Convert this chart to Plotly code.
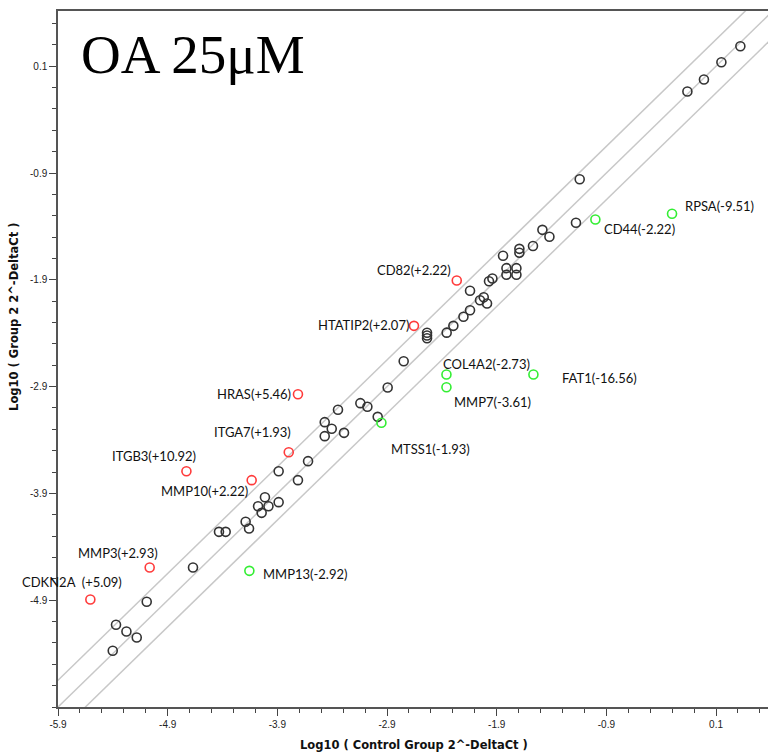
import plotly.graph_objects as go

# ---------------- data ----------------
# unchanged genes (black circles)
base_x = [-0.161, -0.010, 0.149, 0.322, -1.143, -1.177, -1.483, -1.419, -1.569, -1.693,
          -1.693, -1.842, -1.811, -1.720, -1.811, -1.720, -1.970, -1.939, -2.143, -2.052,
          -2.018, -1.988, -2.143, -2.203, -2.295, -2.356, -2.535, -2.535, -2.535, -2.748,
          -2.894, -3.143, -3.079, -3.347, -2.985, -3.468, -3.404, -3.468, -3.292, -3.620,
          -3.888, -3.712, -4.013, -4.076, -3.981, -3.888, -4.043, -4.189, -4.158, -4.432,
          -4.371, -4.669, -5.091, -5.371, -5.276, -5.182, -5.401]
base_y = [-0.137, -0.025, 0.137, 0.287, -0.958, -1.366, -1.432, -1.497, -1.584, -1.610,
          -1.647, -1.675, -1.791, -1.791, -1.853, -1.853, -1.913, -1.888, -2.003, -2.091,
          -2.063, -2.122, -2.185, -2.246, -2.331, -2.395, -2.396, -2.422, -2.447, -2.662,
          -2.908, -3.055, -3.089, -3.117, -3.183, -3.233, -3.295, -3.364, -3.333, -3.598,
          -3.692, -3.776, -3.936, -4.020, -4.020, -3.982, -4.082, -4.166, -4.229, -4.260,
          -4.260, -4.594, -4.915, -5.130, -5.193, -5.249, -5.374]

# up-regulated genes (red)
up_labels = ["CD82(+2.22)", "HTATIP2(+2.07)", "HRAS(+5.46)", "ITGA7(+1.93)",
             "ITGB3(+10.92)", "MMP10(+2.22)", "MMP3(+2.93)", "CDKN2A  (+5.09)"]
up_x = [-2.264, -2.654, -3.712, -3.796, -4.729, -4.134, -5.064, -5.605]
up_y = [-1.907, -2.331, -2.971, -3.514, -3.692, -3.776, -4.594, -4.893]

# down-regulated genes (green)
down_labels = ["RPSA(-9.51)", "CD44(-2.22)", "FAT1(-16.56)", "COL4A2(-2.73)",
               "MMP7(-3.61)", "MTSS1(-1.93)", "MMP13(-2.92)"]
down_x = [-0.301, -1.000, -1.565, -2.358, -2.358, -2.951, -4.155]
down_y = [-1.282, -1.335, -2.787, -2.787, -2.906, -3.239, -4.625]

# boundary lines (log10 offsets) and axis ticks
line_offsets = [0.25, 0.0, -0.25]
line_span = [-6.5, 1.0]
x_tick_vals = [-5.9, -4.9, -3.9, -2.9, -1.9, -0.9, 0.1]
x_tick_text = ["-5.9", "-4.9", "-3.9", "-2.9", "-1.9", "-0.9", "0.1"]
y_tick_vals = [-4.9, -3.9, -2.9, -1.9, -0.9, 0.1]
y_tick_text = ["-4.9", "-3.9", "-2.9", "-1.9", "-0.9", "0.1"]

# ---------------- styling ----------------
up_pos = [("right", -4, 11), ("right", -3, 1), ("right", -5, 0), ("right", 4, 20),
          ("right", 12, 15), ("right", -2, -11), ("right", 10, 15), ("right", 34, 17)]
down_pos = [("left", 11, 8), ("left", 7, -10), ("left", 27, -3), ("left", -5, 11),
            ("left", 6, -15), ("left", 8, -26), ("left", 12, -3)]

fig = go.Figure()
for off in line_offsets:
    fig.add_trace(go.Scatter(x=line_span, y=[v + off for v in line_span], mode="lines",
                             line=dict(color="#c8c8c8", width=1.5), hoverinfo="skip",
                             showlegend=False))

def circles(xs, ys, color):
    fig.add_trace(go.Scatter(x=xs, y=ys, mode="markers", showlegend=False,
                             marker=dict(symbol="circle-open", size=9,
                                         line=dict(color=color, width=1.6), color=color)))

circles(base_x, base_y, "#333333")
circles(up_x, up_y, "#ff3b3b")
circles(down_x, down_y, "#33ee33")

lab_font = dict(family="Lato, Open Sans, sans-serif", size=13, color="#111111")
for txt, x, y, (anc, dx, dy) in zip(up_labels, up_x, up_y, up_pos):
    fig.add_annotation(x=x, y=y, text=txt, showarrow=False, xanchor=anc, yanchor="middle",
                       xshift=dx, yshift=dy, font=lab_font)
for txt, x, y, (anc, dx, dy) in zip(down_labels, down_x, down_y, down_pos):
    fig.add_annotation(x=x, y=y, text=txt, showarrow=False, xanchor=anc, yanchor="middle",
                       xshift=dx, yshift=dy, font=lab_font)

# title
fig.add_annotation(xref="paper", yref="paper", x=0.030, y=0.984, xanchor="left", yanchor="top",
                   text="OA 25μM", showarrow=False,
                   font=dict(family="Liberation Serif, serif", size=55, color="#000000"))
# axis titles
axt_font = dict(family="DejaVu Sans, Verdana, sans-serif", size=11.5, color="#111111")
fig.add_annotation(xref="paper", yref="paper", x=0.501, y=-0.055, xanchor="center", yanchor="middle",
                   text="<b>Log10 ( Control Group 2^-DeltaCt )</b>", showarrow=False, font=axt_font)
fig.add_annotation(xref="paper", yref="paper", x=-0.061, y=0.560, xanchor="center", yanchor="middle",
                   text="<b>Log10 ( Group 2 2^-DeltaCt )</b>", showarrow=False, font=axt_font,
                   textangle=-90)

tick_font = dict(family="Liberation Sans, Arial, sans-serif", size=10, color="#222222")
common = dict(ticks="outside", ticklen=7, tickcolor="#444444", tickwidth=1.2,
              showline=True, linecolor="#555555", linewidth=1.5,
              showgrid=False, zeroline=False, tickfont=tick_font, automargin=False,
              minor=dict(tickmode="linear", tick0=-5.9, dtick=0.2, ticks="outside", ticklen=4,
                         tickcolor="#444444", tickwidth=1.2, showgrid=False))
fig.update_xaxes(range=[-5.9, 0.574], tickmode="array", tickvals=x_tick_vals,
                 ticktext=x_tick_text, mirror=True, **common)
fig.update_yaxes(range=[-5.9, 0.617], tickmode="array", tickvals=y_tick_vals,
                 ticktext=y_tick_text, **common)
fig.update_layout(width=768, height=753, margin=dict(l=58, r=0, t=11, b=46),
                  plot_bgcolor="white", paper_bgcolor="white", showlegend=False)
fig.write_html("out.html", config={"displayModeBar": False},
               post_script="document.body.style.margin='0px';document.body.style.overflow='hidden';")
